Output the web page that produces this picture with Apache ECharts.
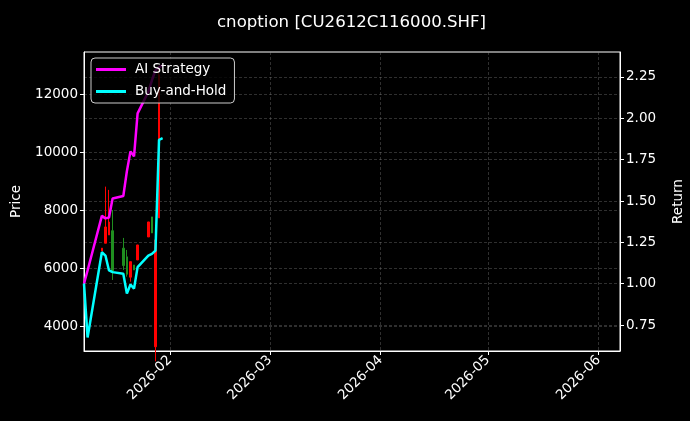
<!DOCTYPE html>
<html><head><meta charset="utf-8">
<script src="https://cdn.jsdelivr.net/npm/echarts@6/dist/echarts.min.js"></script>
<style>html,body{margin:0;padding:0;background:#000;}#c{width:690px;height:421px;}</style>
</head><body><div id="c"></div>
<script>
// ---- data ----
const lineDates = ['2026-01-08','2026-01-09','2026-01-13','2026-01-14','2026-01-15','2026-01-16','2026-01-19','2026-01-20','2026-01-21','2026-01-22','2026-01-23','2026-01-26','2026-01-27','2026-01-28','2026-01-29','2026-01-30'];
const aiStrategy = [1.00, 1.08, 1.41, 1.395, 1.40, 1.515, 1.53, 1.68, 1.80, 1.77, 2.03, 2.16, 2.23, 2.29, 2.31, 2.32];
const buyAndHold = [1.00, 0.675, 1.19, 1.17, 1.08, 1.07, 1.06, 0.94, 0.995, 0.97, 1.10, 1.17, 1.18, 1.20, 1.87, 1.88];

const candleDates = ['2026-01-13','2026-01-14','2026-01-15','2026-01-16','2026-01-19','2026-01-20','2026-01-21','2026-01-22','2026-01-23','2026-01-26','2026-01-27','2026-01-28','2026-01-29'];
const candleOpen  = [6600, 6870, 7155, 7300, 6700, 6400, 5700, 6120, 6293, 7086, 7776, 3300, 7741];
const candleClose = [6700, 7430, 7600, 5900, 6100, 5800, 6234, 5948, 6810, 7603, 7224, 6983, 12672];
const candleLow   = [6600, 6870, 7155, 5603, 5948, 5717, 5545, 5948, 6293, 7086, 7224, 2800, 7741];
const candleHigh  = [6700, 8820, 8707, 8017, 7052, 6638, 6234, 6120, 6810, 7603, 7776, 6983, 12900];

const xTickLabels = ['2026-02','2026-03','2026-04','2026-05','2026-06'];
const priceTicks = [4000, 6000, 8000, 10000, 12000];
const returnTicks = [0.75, 1.00, 1.25, 1.50, 1.75, 2.00, 2.25];
const xRange = ['2026-01-08', '2026-06-07'];
const priceRange = [3155, 13460];
const returnRange = [0.593, 2.401];

// ---- helpers ----
function toTs(s){ const p = s.split('-').map(Number); return new Date(p[0], p[1]-1, p[2] || 1).getTime(); }
function fmtMonth(v){ const d = new Date(v); return d.getFullYear() + '-' + String(d.getMonth()+1).padStart(2,'0'); }

const FONT = 'DejaVu Sans';
const TICK_FS = 13.5;
const xTickValues = xTickLabels.map(toTs);
const gridLine = { show: true, lineStyle: { color: 'rgba(150,150,150,0.45)', type: [3, 2], width: 0.7 } };

const candleData = candleDates.map((d, i) => [toTs(d), candleOpen[i], candleClose[i], candleLow[i], candleHigh[i]]);
const aiData = lineDates.map((d, i) => [toTs(d), aiStrategy[i]]);
const bhData = lineDates.map((d, i) => [toTs(d), buyAndHold[i]]);

const chart = echarts.init(document.getElementById('c'), null, { renderer: 'canvas' });
chart.setOption({
  backgroundColor: '#000',
  animation: false,
  textStyle: { fontFamily: FONT, color: '#fff' },
  title: {
    text: 'cnoption [CU2612C116000.SHF]',
    left: 212, top: 9,
    textStyle: { color: '#fff', fontSize: 16.6, fontWeight: 'normal', fontFamily: FONT }
  },
  legend: {
    orient: 'vertical', left: 91, top: 58,
    padding: [4, 8, 4, 5], itemGap: 7, itemWidth: 30, itemHeight: 3, icon: 'rect',
    backgroundColor: 'rgba(0,0,0,0.8)', borderColor: '#cccccc', borderWidth: 1, borderRadius: 4,
    textStyle: { color: '#fff', fontSize: 13.5, fontFamily: FONT, padding: [0, 0, 0, 4], lineHeight: 15 },
    data: ['AI Strategy', 'Buy-and-Hold']
  },
  grid: { left: 84, right: 70, top: 52, bottom: 70, outerBoundsMode: 'none', containLabel: false, show: true, borderColor: '#fff', borderWidth: 1, backgroundColor: 'transparent' },
  xAxis: {
    type: 'value', min: toTs(xRange[0]), max: toTs(xRange[1]), scale: true,
    axisLine: { show: true, lineStyle: { color: '#fff', width: 1 } },
    axisTick: { show: true, length: 4, lineStyle: { color: '#fff' }, customValues: xTickValues },
    axisLabel: { color: '#fff', fontSize: TICK_FS, fontFamily: FONT, rotate: 45, margin: 7, customValues: xTickValues, formatter: fmtMonth },
    splitLine: gridLine
  },
  yAxis: [
    {
      type: 'value', position: 'left', min: priceRange[0], max: priceRange[1],
      name: 'Price', nameLocation: 'middle', nameGap: 61, nameRotate: 90,
      nameTextStyle: { color: '#fff', fontSize: TICK_FS, fontFamily: FONT },
      axisLine: { show: true, lineStyle: { color: '#fff' } },
      axisTick: { show: true, length: 4, lineStyle: { color: '#fff' }, customValues: priceTicks },
      axisLabel: { color: '#fff', fontSize: TICK_FS, fontFamily: FONT, margin: 6, customValues: priceTicks, formatter: v => String(v) },
      splitLine: gridLine
    },
    {
      type: 'value', position: 'right', min: returnRange[0], max: returnRange[1],
      name: 'Return', nameLocation: 'middle', nameGap: 51, nameRotate: 90,
      nameTextStyle: { color: '#fff', fontSize: TICK_FS, fontFamily: FONT },
      axisLine: { show: true, lineStyle: { color: '#fff' } },
      axisTick: { show: true, length: 4, lineStyle: { color: '#fff' }, customValues: returnTicks },
      axisLabel: { color: '#fff', fontSize: TICK_FS, fontFamily: FONT, margin: 6, customValues: returnTicks, formatter: v => v.toFixed(2) },
      splitLine: gridLine
    }
  ],
  series: [
    {
      name: 'Price', type: 'candlestick', yAxisIndex: 0, clip: true,
      encode: { x: 0, y: [1, 2, 3, 4] },
      barWidth: 2,
      itemStyle: { color: '#ff0000', color0: '#1f8f1f', borderColor: '#ff0000', borderColor0: '#1f8f1f', borderWidth: 1 },
      data: candleData, z: 1
    },
    {
      name: 'AI Strategy', type: 'line', yAxisIndex: 1, symbol: 'none', showSymbol: false,
      lineStyle: { color: '#ff00ff', width: 2.5 }, itemStyle: { color: '#ff00ff' },
      data: aiData, z: 3
    },
    {
      name: 'Buy-and-Hold', type: 'line', yAxisIndex: 1, symbol: 'none', showSymbol: false,
      lineStyle: { color: '#00ffff', width: 2.5 }, itemStyle: { color: '#00ffff' },
      data: bhData, z: 3
    }
  ]
});
</script></body></html>
